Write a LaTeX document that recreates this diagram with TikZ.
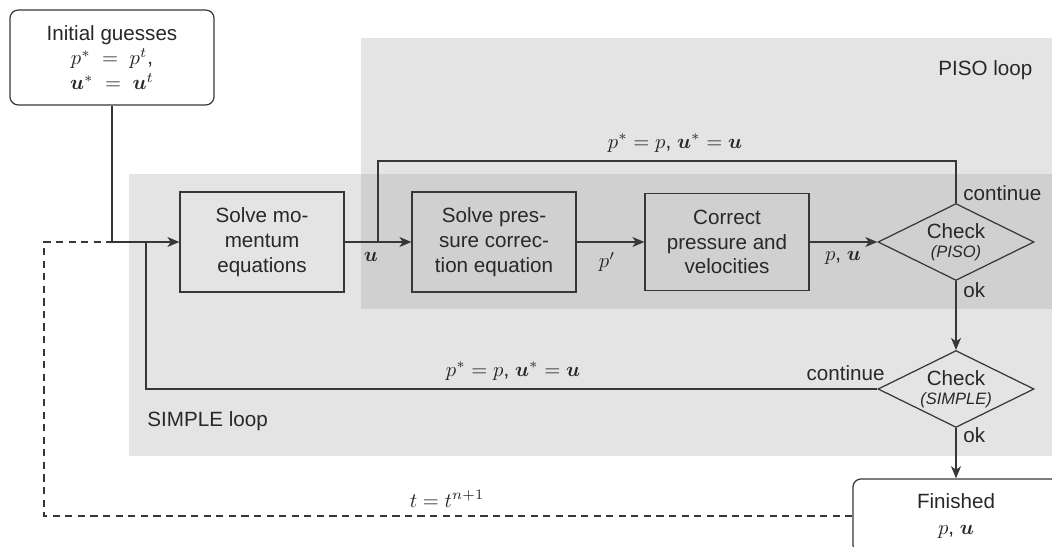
\documentclass[tikz,border=0pt]{standalone}
\usepackage{amsmath}
\usepackage[no-math]{fontspec}
\setmainfont{Liberation Sans}
\usetikzlibrary{shapes.geometric,arrows.meta}
\definecolor{lightbg}{RGB}{228,228,228}
\definecolor{darkbg}{RGB}{208,208,208}
\definecolor{ink}{RGB}{40,40,40}
\definecolor{linec}{RGB}{55,55,55}
\tikzset{
  procbox/.style={draw=linec, line width=0.6pt, align=center, inner sep=0pt,
    minimum width=79.5pt, minimum height=48.5pt, text=ink},
  termbox/.style={draw=linec, line width=0.6pt, rounded corners=4pt, align=center,
    inner sep=0pt, text=ink},
  decision/.style={draw=linec, line width=0.6pt, diamond, inner sep=0pt,
    minimum width=75.7pt, minimum height=37.3pt},
  flow/.style={draw=linec, line width=0.6pt},
  arr/.style={flow, -{Stealth[length=5.8pt,width=4.8pt,inset=1.6pt]}},
  dashflow/.style={flow, dash pattern=on 3.5pt off 2.6pt},
  lbl/.style={text=ink, inner sep=0pt},
}
\begin{document}
\begin{tikzpicture}[x=0.485pt, y=-0.485pt]
\useasboundingbox (0,0) rectangle (1052,546);
\clip (0,0) rectangle (1052,546);
% loop regions
\fill[lightbg] (129,174) rectangle (1052,456);
\fill[lightbg] (361,38) rectangle (1052,309);
\fill[darkbg] (361,174) rectangle (1052,309);
\node[lbl, anchor=west] (pisolbl) at (938,70) {PISO loop};
\node[lbl, anchor=west] (simplelbl) at (147,421) {SIMPLE loop};

% nodes
\node[termbox, minimum width=99pt, minimum height=46pt] (init) at (112,57.5)
  {Initial guesses\\ $p^* \;=\; p^t$,\\ $\boldsymbol{u}^* \;=\; \boldsymbol{u}^t$};
\node[procbox] (sm) at (262,242) {Solve mo-\\mentum\\equations};
\node[procbox] (sp) at (494,242) {Solve pres-\\sure correc-\\tion equation};
\node[procbox, minimum height=47pt] (cp) at (727,242) {Correct\\pressure and\\velocities};
\node[decision] (piso) at (956,242) {};
\node[lbl, align=center] (pisotxt) at (956,242) {Check\\[-3pt]{\footnotesize\itshape (PISO)}};
\node[decision] (simple) at (956,389) {};
\node[lbl, align=center] (simpletxt) at (956,389) {Check\\[-3pt]{\footnotesize\itshape (SIMPLE)}};
\node[termbox, minimum width=100pt, minimum height=36pt] (fin) at (956,516)
  {Finished\\[1pt] $p$, $\boldsymbol{u}$};

% junctions
\coordinate (j1) at (112,242);
\coordinate (j2) at (378,242);
\coordinate (j3) at (146,242);
\coordinate (c1) at (378,161);
\coordinate (c2) at (146,389);
\coordinate (d1) at (44,242);
\coordinate (d2) at (44,516);

% connectors
\draw[flow] (init.south) -- (j1);
\draw[arr] (j1) -- (sm.west);
\draw[arr] (sm.east) -- (sp.west);
\draw[arr] (sp.east) -- (cp.west);
\draw[arr] (cp.east) -- (piso.west);
\draw[flow] (piso.north) |- (c1) -- (j2);
\draw[arr] (piso.south) -- (simple.north);
\draw[flow] (simple.west) -- (c2) -- (j3);
\draw[arr] (simple.south) -- (fin.north);
\draw[dashflow] (fin.west) -- (d2) -- (d1) -- (j1);

% labels
\node[lbl] (ulbl) at (371,257) {$\boldsymbol{u}$};
\node[lbl] (plbl) at (607,262) {$p'$};
\node[lbl] (pulbl) at (843,258) {$p$, $\boldsymbol{u}$};
\node[lbl] (pisoret) at (675,143) {$p^* = p$, $\boldsymbol{u}^* = \boldsymbol{u}$};
\node[lbl] (simpret) at (513,371) {$p^* = p$, $\boldsymbol{u}^* = \boldsymbol{u}$};
\node[lbl, anchor=west] (cont1) at (963,193) {continue};
\node[lbl, anchor=west] (ok1) at (963,290) {ok};
\node[lbl, anchor=east] (cont2) at (885,373) {continue};
\node[lbl, anchor=west] (ok2) at (963,435) {ok};
\node[lbl] (tlbl) at (447,499) {$t = t^{n+1}$};
\end{tikzpicture}
\end{document}
